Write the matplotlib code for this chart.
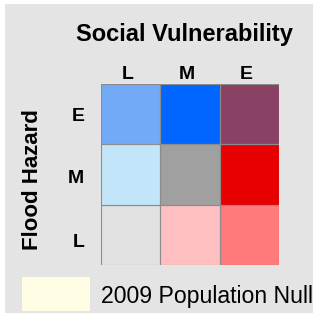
import matplotlib
matplotlib.use("Agg")
import matplotlib.pyplot as plt
from matplotlib.patches import Rectangle
from matplotlib.colors import to_rgb
from matplotlib.transforms import ScaledTranslation
import numpy as np

plt.rcParams['font.family'] = ['Liberation Sans', 'DejaVu Sans']

title = "Social Vulnerability"
ylabel = "Flood Hazard"
col_labels = ["L", "M", "E"]          # social vulnerability
row_labels = ["E", "M", "L"]          # flood hazard (top to bottom)
row_E = ["#72aaf7", "#0066ff", "#8a4264"]
row_M = ["#c2e5fa", "#a0a0a0", "#e60000"]
row_L = ["#e1e1e1", "#ffbfc0", "#ff7b7b"]
null_label = "2009 Population Null"
null_color = "#fffde4"

W, H = 317, 315
fig = plt.figure(figsize=(W / 100, H / 100), dpi=100, facecolor="white")

def fx(px):
    return px / W

def fy(py):
    return 1 - py / H

# gray panel background
fig.patches.append(Rectangle((fx(5), fy(313)), fx(313) - fx(5), fy(4) - fy(313),
                             transform=fig.transFigure, facecolor="#e4e4e4",
                             edgecolor="none", zorder=-2))

ax = fig.add_axes([fx(101), fy(265), fx(279) - fx(101), fy(84) - fy(265)])
ax.set_zorder(2)
ax.patch.set_alpha(0)
rgb = np.array([[to_rgb(c) for c in row] for row in (row_E, row_M, row_L)])
ax.imshow(rgb, aspect="auto", interpolation="nearest")
for i in range(3):
    for j in range(3):
        ax.add_patch(Rectangle((j - 0.5, i - 0.5), 1, 1, fill=False,
                               edgecolor="#8c8c8c", linewidth=0.8))
ax.set_xlim(-0.5, 2.5)
ax.set_ylim(2.5, -0.5)
ax.xaxis.tick_top()
ax.set_xticks(range(3))
ax.set_xticklabels(col_labels, fontsize=14, fontweight="bold")
ax.set_yticks(range(3))
ax.set_yticklabels(row_labels, fontsize=14, fontweight="bold")
ax.tick_params(axis="x", length=0, pad=0.8)
ax.tick_params(axis="y", length=0, pad=12)
for s in ax.spines.values():
    s.set_visible(False)

# small pixel nudges of tick labels to match the reference placement
for lab in ax.get_xticklabels():
    lab.set_transform(lab.get_transform() + ScaledTranslation(-3 / 100, 0, fig.dpi_scale_trans))
for lab, dy in zip(ax.get_yticklabels(), [0, -2, -5.5]):
    lab.set_transform(lab.get_transform() + ScaledTranslation(0, dy / 100, fig.dpi_scale_trans))

fig.text(fx(184.5), fy(41), title, fontsize=17, fontweight="bold",
         ha="center", va="baseline")
fig.text(fx(32), (fy(108) + fy(252)) / 2, ylabel, fontsize=16, fontweight="bold",
         rotation=90, ha="center", va="center")

fig.patches.append(Rectangle((fx(22), fy(311)), fx(90) - fx(22), fy(277) - fy(311),
                             transform=fig.transFigure, facecolor=null_color,
                             edgecolor="none", zorder=1))
fig.text(fx(101), fy(303), null_label, fontsize=16.6, ha="left", va="baseline")

fig.savefig("out.png", dpi=100, facecolor="white")
